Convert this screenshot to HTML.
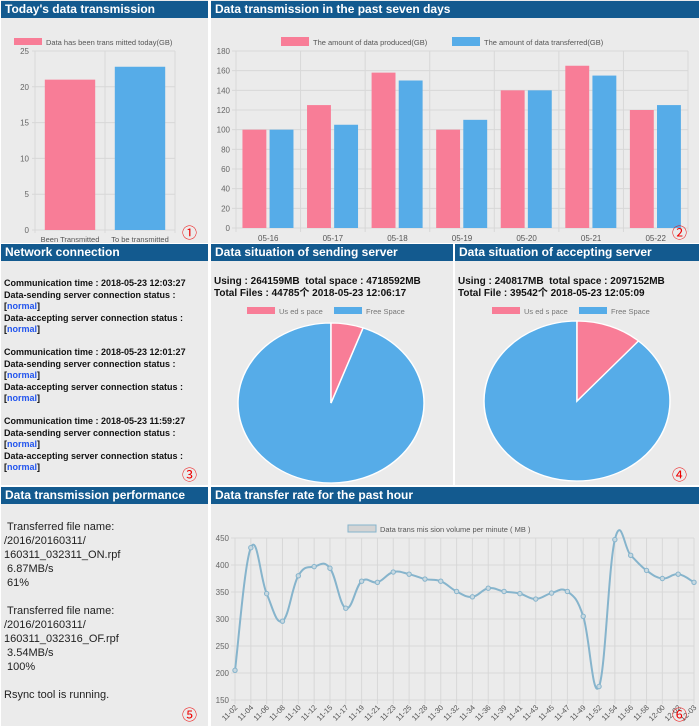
<!DOCTYPE html>
<html><head><meta charset="utf-8"><style>
body{margin:0;width:700px;height:726px;background:#fff;font-family:"Liberation Sans","Noto Sans CJK SC",sans-serif;position:relative;overflow:hidden}
.p{position:absolute;background:#ebebeb}
.h{position:absolute;background:#135a8f;color:#fff;font-weight:bold;font-size:12px;line-height:16px;padding-left:4px;box-sizing:border-box;height:17px;z-index:2}
.num{position:absolute;color:#e00;font-size:15px}
.nc{position:absolute;left:4px;top:278px;font-size:9px;font-weight:bold;line-height:11.5px;color:#111}
.nc b{color:#2255ee}
.perf{position:absolute;left:4px;top:520px;font-size:11px;line-height:14px;color:#222}
.info{position:absolute;font-size:10px;font-weight:bold;line-height:12px;color:#111}
svg text{font-family:"Liberation Sans",sans-serif}
</style></head><body>
<div class="p" style="left:1px;top:0;width:207px;height:243px"></div>
<div class="p" style="left:211px;top:0;width:488px;height:243px"></div>
<div class="p" style="left:1px;top:244px;width:207px;height:241px"></div>
<div class="p" style="left:211px;top:244px;width:242px;height:241px"></div>
<div class="p" style="left:455px;top:244px;width:244px;height:241px"></div>
<div class="p" style="left:1px;top:487px;width:207px;height:239px"></div>
<div class="p" style="left:211px;top:487px;width:488px;height:239px"></div>

<div class="h" style="left:1px;top:1px;width:207px">Today's data transmission</div>
<div class="h" style="left:211px;top:1px;width:488px">Data transmission in the past seven days</div>
<div class="h" style="left:1px;top:244px;width:207px">Network connection</div>
<div class="h" style="left:211px;top:244px;width:242px">Data situation of sending server</div>
<div class="h" style="left:455px;top:244px;width:244px">Data situation of accepting server</div>
<div class="h" style="left:1px;top:487px;width:207px">Data transmission performance</div>
<div class="h" style="left:211px;top:487px;width:488px">Data transfer rate for the past hour</div>

<div class="nc">
Communication time : 2018-05-23 12:03:27<br>Data-sending server connection status :<br>[<b>normal</b>]<br>Data-accepting server connection status :<br>[<b>normal</b>]<br><br>
Communication time : 2018-05-23 12:01:27<br>Data-sending server connection status :<br>[<b>normal</b>]<br>Data-accepting server connection status :<br>[<b>normal</b>]<br><br>
Communication time : 2018-05-23 11:59:27<br>Data-sending server connection status :<br>[<b>normal</b>]<br>Data-accepting server connection status :<br>[<b>normal</b>]
</div>
<div class="info" style="left:214px;top:276px">Using : 264159MB&nbsp; total space : 4718592MB<br>Total Files : 44785个 2018-05-23 12:06:17</div>
<div class="info" style="left:458px;top:276px">Using : 240817MB&nbsp; total space : 2097152MB<br>Total File : 39542个 2018-05-23 12:05:09</div>
<div class="perf">&nbsp;Transferred file name:<br>/2016/20160311/<br>160311_032311_ON.rpf<br>&nbsp;6.87MB/s<br>&nbsp;61%<br><br>&nbsp;Transferred file name:<br>/2016/20160311/<br>160311_032316_OF.rpf<br>&nbsp;3.54MB/s<br>&nbsp;100%<br><br>Rsync tool is running.</div>

<svg id="s" width="700" height="726" style="position:absolute;left:0;top:0"></svg>

<div class="num" style="left:182px;top:222px">①</div>
<div class="num" style="left:672px;top:222px">②</div>
<div class="num" style="left:182px;top:464px">③</div>
<div class="num" style="left:672px;top:464px">④</div>
<div class="num" style="left:182px;top:704px">⑤</div>
<div class="num" style="left:672px;top:704px">⑥</div>

<script>
const todayCats=["Been Transmitted","To be transmitted"];
const todayVals=[21,22.8];
const weekCats=["05-16","05-17","05-18","05-19","05-20","05-21","05-22"];
const weekProduced=[100,125,158,100,140,165,120];
const weekTransferred=[100,105,150,110,140,155,125];
const sendUsed=264159, sendTotal=4718592;
const accUsed=240817, accTotal=2097152;
const rateCats=["11-02","11-04","11-06","11-08","11-10","11-12","11-15","11-17","11-19","11-21","11-23","11-25","11-28","11-30","11-32","11-34","11-36","11-39","11-41","11-43","11-45","11-47","11-49","11-52","11-54","11-56","11-58","12-00","12-02","12-03"];
const rateVals=[205,432,347,296,380,397,394,320,370,368,387,383,374,370,351,341,357,351,347,337,348,351,305,175,447,418,390,375,383,368];
const PINK="#f87d97",BLUE="#56ace8";
const svg=document.getElementById('s');
const NS="http://www.w3.org/2000/svg";
function mk(t,a,txt,parent){const e=document.createElementNS(NS,t);for(const k in a)e.setAttribute(k,a[k]);if(txt!==undefined)e.textContent=txt;(parent||svg).appendChild(e);return e;}

// chart 1
(function(){
 const x0=35,x1=175,yT=51,yB=230,max=25;
 const y=v=>yB-(v/max)*(yB-yT);
 for(let v=0;v<=25;v+=5){const l=mk('line',{x1:x0-3,x2:x1,y1:y(v),y2:y(v),stroke:'#d8d8d8'});
  const t=mk('text',{x:x0-6,y:y(v)+3,'font-size':8,fill:'#666','text-anchor':'end'},v);}
 const bw=(x1-x0)/todayCats.length;
 for(let i=0;i<=todayCats.length;i++){mk('line',{x1:x0+i*bw,x2:x0+i*bw,y1:yT,y2:yB+3,stroke:'#d8d8d8'});}
 todayVals.forEach((v,i)=>{const r=mk('rect',{x:x0+i*bw+bw*0.14,y:y(v),width:bw*0.72,height:yB-y(v),fill:i?BLUE:PINK});
  
  const t=mk('text',{x:x0+i*bw+bw/2,y:yB+12,'font-size':7.5,fill:'#555','text-anchor':'middle'},todayCats[i]);});
 const lg=mk('rect',{x:14,y:38,width:28,height:7,fill:PINK});
 const lt=mk('text',{x:46,y:45,'font-size':7.5,fill:'#555'},'Data has  been trans mitted today(GB)');
})();

// chart 2
(function(){
 const x0=236,x1=688,yT=51,yB=228,max=180;
 const y=v=>yB-(v/max)*(yB-yT);
 for(let v=0;v<=max;v+=20){mk('line',{x1:x0-4,x2:x1,y1:y(v),y2:y(v),stroke:'#d8d8d8'});
  const t=mk('text',{x:x0-6,y:y(v)+3,'font-size':8,fill:'#666','text-anchor':'end'},v);}
 const bw=(x1-x0)/weekCats.length;
 for(let i=0;i<=weekCats.length;i++)mk('line',{x1:x0+i*bw,x2:x0+i*bw,y1:yT,y2:yB+4,stroke:'#d8d8d8'});
 weekCats.forEach((c,i)=>{
  const bx=x0+i*bw;
  const a=mk('rect',{x:bx+bw*0.1,y:y(weekProduced[i]),width:bw*0.37,height:yB-y(weekProduced[i]),fill:PINK});
  const b=mk('rect',{x:bx+bw*0.52,y:y(weekTransferred[i]),width:bw*0.37,height:yB-y(weekTransferred[i]),fill:BLUE});
  const t=mk('text',{x:bx+bw/2,y:yB+13,'font-size':8,fill:'#555','text-anchor':'middle'},c);});
 mk('rect',{x:281,y:37,width:28,height:9,fill:PINK});
 const l1=mk('text',{x:313,y:45,'font-size':7.5,fill:'#555'},'The amount of data produced(GB)');
 mk('rect',{x:452,y:37,width:28,height:9,fill:BLUE});
 const l2=mk('text',{x:484,y:45,'font-size':7.5,fill:'#555'},'The amount of data transferred(GB)');
})();

// pies (slightly squashed vertically as in reference)
function pie(cx,cy,rx,ry,used,total,lx,name){
 const g=mk('g',{transform:`translate(${cx},${cy}) scale(1,${ry/rx})`});
 
 
 const r=rx,f=used/total,a=f*2*Math.PI;
 const ex=r*Math.sin(a), ey=-r*Math.cos(a);
 const big=f>0.5?1:0;
 const fr=mk('path',{d:`M0,0L${ex},${ey}A${r},${r} 0 ${1-big} 1 0,${-r}Z`,fill:BLUE,stroke:'#fff','stroke-width':1.5},undefined,g);
 const u=mk('path',{d:`M0,0L0,${-r}A${r},${r} 0 ${big} 1 ${ex},${ey}Z`,fill:PINK,stroke:'#fff','stroke-width':1.5},undefined,g);
 mk('rect',{x:lx,y:307,width:28,height:7,fill:PINK});
 const t1=mk('text',{x:lx+32,y:314,'font-size':7.5,fill:'#777'},'Us ed s pace');
 mk('rect',{x:lx+87,y:307,width:28,height:7,fill:BLUE});
 const t2=mk('text',{x:lx+119,y:314,'font-size':7.5,fill:'#777'},'Free Space');
}
pie(331,403,93,80,sendUsed,sendTotal,247,'sending');
pie(577,401,93,80,accUsed,accTotal,492,'accepting');

// line chart
(function(){
 const x0=235,x1=694,yT=538,yB=700,mn=150,mx=450;
 const y=v=>yB-(v-mn)/(mx-mn)*(yB-yT);
 const x=i=>x0+i*(x1-x0)/(rateCats.length-1);
 for(let v=mn;v<=mx;v+=50){mk('line',{x1:x0-4,x2:x1,y1:y(v),y2:y(v),stroke:'#d8d8d8'});
  const t=mk('text',{x:x0-6,y:y(v)+3,'font-size':8,fill:'#666','text-anchor':'end'},v);}
 rateCats.forEach((c,i)=>{mk('line',{x1:x(i),x2:x(i),y1:yT,y2:yB+4,stroke:'#d8d8d8'});
  const t=mk('text',{x:x(i)+3,y:yB+8,'font-size':7.5,fill:'#555','text-anchor':'end',transform:`rotate(-45 ${x(i)+3} ${yB+8})`},c);});
 const P=rateVals.map((v,i)=>[x(i),y(v)]);
 let d=`M${P[0][0]},${P[0][1]}`;const k=0.2;
 for(let i=0;i<P.length-1;i++){const p0=P[Math.max(0,i-1)],p1=P[i],p2=P[i+1],p3=P[Math.min(P.length-1,i+2)];
  d+=`C${p1[0]+(p2[0]-p0[0])*k},${p1[1]+(p2[1]-p0[1])*k} ${p2[0]-(p3[0]-p1[0])*k},${p2[1]-(p3[1]-p1[1])*k} ${p2[0]},${p2[1]}`;}
 const ln=mk('path',{d:d,fill:'none',stroke:'#86b4cc','stroke-width':2});
 P.forEach(p=>{const c=mk('circle',{cx:p[0],cy:p[1],r:2.2,fill:'#c8d8e0',stroke:'#86b4cc'});});
 mk('rect',{x:348,y:525,width:28,height:7,fill:'#d4d4d4',stroke:'#86b4cc'});
 const lt=mk('text',{x:380,y:532,'font-size':7.5,fill:'#555'},'Data trans mis sion volume per minute ( MB )');
})();
</script>
</body></html>
